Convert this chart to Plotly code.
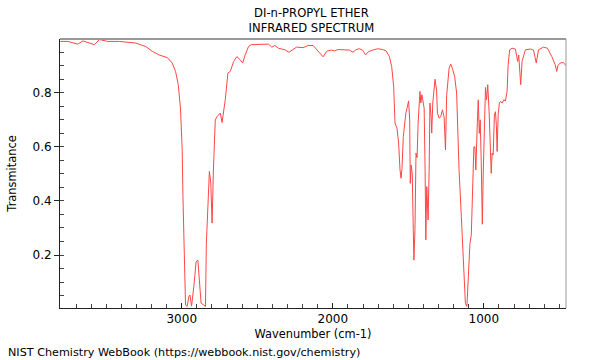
import plotly.graph_objects as go

wavenumber = [3804, 3754, 3688, 3655, 3578, 3545, 3490, 3413, 3304, 3238, 3194, 3150, 3095, 3063, 3041, 3023,
              3008, 2997, 2992, 2984, 2975, 2964, 2953, 2946, 2935, 2920, 2905, 2893, 2883, 2872, 2854, 2843,
              2837, 2826, 2817, 2808, 2799, 2791, 2778, 2766, 2755, 2745, 2733, 2722, 2712, 2694, 2679, 2656,
              2635, 2613, 2597, 2580, 2558, 2540, 2492, 2426, 2404, 2383, 2360, 2338, 2317, 2290, 2261, 2240,
              2196, 2163, 2130, 2108, 2086, 2064, 2042, 2031, 2009, 1988, 1965, 1922, 1889, 1866, 1845, 1823,
              1801, 1783, 1764, 1735, 1702, 1669, 1647, 1625, 1610, 1597, 1588, 1575, 1564, 1555, 1548, 1542,
              1533, 1516, 1504, 1498, 1491, 1487, 1481, 1474, 1467, 1463, 1456, 1449, 1442, 1435, 1423, 1417,
              1410, 1404, 1395, 1389, 1384, 1378, 1369, 1362, 1357, 1349, 1345, 1338, 1329, 1323, 1313, 1307,
              1296, 1285, 1274, 1263, 1254, 1246, 1230, 1219, 1208, 1193, 1180, 1164, 1149, 1136, 1122, 1112,
              1103, 1092, 1083, 1074, 1066, 1059, 1053, 1043, 1037, 1030, 1024, 1017, 1010, 1004, 996, 989,
              982, 974, 965, 958, 951, 945, 938, 930, 923, 917, 912, 905, 897, 890, 879, 868,
              857, 846, 839, 829, 813, 791, 776, 769, 756, 747, 725, 692, 671, 653, 638, 605,
              579, 550, 528, 517, 510, 495, 473, 456]
transmittance = [0.990, 0.990, 0.980, 0.992, 0.978, 0.997, 0.990, 0.990, 0.984, 0.971, 0.953, 0.940, 0.930, 0.910, 0.879, 0.830,
                 0.740, 0.589, 0.416, 0.170, 0.015, 0.010, 0.046, 0.052, 0.011, 0.083, 0.175, 0.181, 0.096, 0.022, 0.015, 0.010,
                 0.244, 0.390, 0.509, 0.470, 0.318, 0.503, 0.700, 0.712, 0.718, 0.725, 0.690, 0.730, 0.774, 0.873, 0.879, 0.916,
                 0.934, 0.922, 0.910, 0.940, 0.971, 0.978, 0.980, 0.980, 0.969, 0.975, 0.965, 0.962, 0.959, 0.950, 0.960, 0.969,
                 0.967, 0.975, 0.975, 0.962, 0.947, 0.933, 0.952, 0.956, 0.958, 0.955, 0.960, 0.958, 0.958, 0.950, 0.960, 0.963,
                 0.957, 0.940, 0.952, 0.958, 0.963, 0.960, 0.955, 0.934, 0.897, 0.823, 0.688, 0.669, 0.614, 0.515, 0.484, 0.520,
                 0.638, 0.725, 0.762, 0.770, 0.700, 0.465, 0.533, 0.500, 0.293, 0.181, 0.293, 0.577, 0.560, 0.688, 0.805, 0.762,
                 0.793, 0.770, 0.743, 0.515, 0.256, 0.453, 0.330, 0.515, 0.762, 0.710, 0.651, 0.762, 0.830, 0.850, 0.810, 0.725,
                 0.706, 0.712, 0.737, 0.710, 0.589, 0.790, 0.891, 0.906, 0.890, 0.860, 0.799, 0.515, 0.342, 0.169, 0.021, 0.010,
                 0.095, 0.243, 0.274, 0.515, 0.600, 0.600, 0.515, 0.690, 0.774, 0.650, 0.700, 0.540, 0.314, 0.500, 0.700, 0.820,
                 0.774, 0.830, 0.730, 0.600, 0.502, 0.577, 0.570, 0.718, 0.730, 0.680, 0.583, 0.720, 0.762, 0.768, 0.762, 0.774,
                 0.770, 0.805, 0.904, 0.959, 0.965, 0.962, 0.916, 0.940, 0.830, 0.916, 0.959, 0.962, 0.958, 0.910, 0.959, 0.969,
                 0.965, 0.934, 0.904, 0.879, 0.900, 0.910, 0.912, 0.900]

x_ticks = [3000, 2000, 1000]
y_ticks = [0.2, 0.4, 0.6, 0.8]

FONT = "DejaVu Sans"

fig = go.Figure()
fig.add_trace(go.Scatter(x=wavenumber, y=transmittance, mode="lines",
                         line=dict(color="rgb(255,70,70)", width=1), hoverinfo="skip"))

fig.update_layout(
    width=600, height=360,
    margin=dict(l=57, r=34, t=39, b=52),
    paper_bgcolor="white", plot_bgcolor="white",
    showlegend=False,
    font=dict(family=FONT, size=12, color="black"),
    title=dict(text="DI-n-PROPYL ETHER<br>INFRARED SPECTRUM", x=0.519, xanchor="center",
               y=0.954, yanchor="top", font=dict(family=FONT, size=11.6, color="black")),
    xaxis=dict(range=[3806, 456], tickvals=x_ticks, ticktext=[str(v) for v in x_ticks],
               showgrid=False, zeroline=False, showline=True, linecolor="#222", linewidth=1,
               ticks="inside", ticklen=5, tickcolor="#222",
               minor=dict(dtick=100, tick0=0, ticks="inside", ticklen=4, tickcolor="#444", showgrid=False),
               title=dict(text="Wavenumber (cm-1)", standoff=4, font=dict(family=FONT, size=11.4)),
               tickfont=dict(family=FONT, size=12)),
    yaxis=dict(range=[0.004, 0.999], tickvals=y_ticks, ticktext=[f"{v:.1f}" for v in y_ticks],
               showgrid=False, zeroline=False, showline=True, linecolor="#222", linewidth=1,
               ticks="outside", ticklen=5, tickcolor="#222",
               minor=dict(dtick=0.05, tick0=0, ticks="inside", ticklen=4, tickcolor="#444", showgrid=False),
               title=dict(text="Transmitance", standoff=13, font=dict(family=FONT, size=11.4)),
               tickfont=dict(family=FONT, size=12)),
)

# gray top and right frame lines
fig.add_shape(type="line", xref="paper", yref="paper", x0=0, x1=1, y0=1, y1=1,
              line=dict(color="#999", width=2))
fig.add_shape(type="line", xref="paper", yref="paper", x0=1, x1=1, y0=0, y1=1,
              line=dict(color="#999", width=1))

fig.add_annotation(text="NIST Chemistry WebBook (https://webbook.nist.gov/chemistry)",
                   xref="paper", yref="paper", x=-0.106, y=-0.167, xanchor="left", yanchor="middle",
                   showarrow=False, font=dict(family=FONT, size=11.2, color="black"))

fig.write_html("out.html", config={"displayModeBar": False},
               post_script="document.body.style.margin='0';")
